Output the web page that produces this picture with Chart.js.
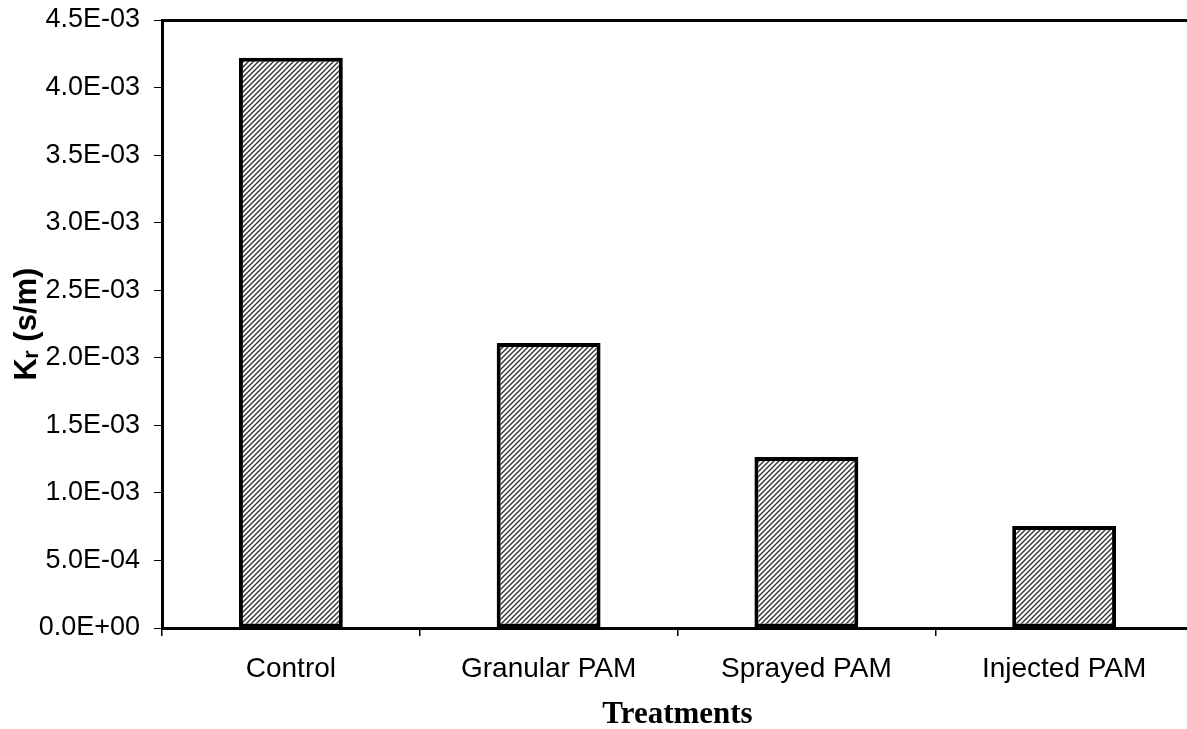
<!DOCTYPE html>
<html>
<head>
<meta charset="utf-8">
<script src="https://cdn.jsdelivr.net/npm/chart.js@4/dist/chart.umd.min.js"></script>
<style>
  html, body { margin: 0; padding: 0; background: #fff; overflow: hidden; }
  #wrap { width: 1187px; height: 729px; overflow: hidden; }
  canvas { display: block; }
</style>
</head>
<body>
<div id="wrap"><canvas id="c" width="1194" height="729"></canvas></div>
<script>
// ---- data ----
const categories = ['Control', 'Granular PAM', 'Sprayed PAM', 'Injected PAM'];
const krValues = [4.22e-3, 2.11e-3, 1.265e-3, 0.755e-3];
const yTitle = 'Kᵣ (s/m)';
const xTitle = 'Treatments';
const yMin = 0, yMax = 4.5e-3, yStep = 5e-4;

function sciLabel(v) {
  const s = Number(v).toExponential(1).toUpperCase(); // e.g. 4.5E-3
  const m = s.match(/^(-?[\d.]+)E([+-])(\d+)$/);
  if (!m) return s;
  return m[1] + 'E' + m[2] + m[3].padStart(2, '0');
}

function hatch() {
  const p = document.createElement('canvas');
  const n = 5;
  p.width = n; p.height = n;
  const g = p.getContext('2d');
  g.fillStyle = '#ffffff';
  g.fillRect(0, 0, n, n);
  g.strokeStyle = '#333333';
  g.lineWidth = 1.4;
  g.beginPath();
  g.moveTo(-1, n + 1); g.lineTo(n + 1, -1);
  g.moveTo(-1, 1); g.lineTo(1, -1);
  g.moveTo(n - 1, n + 1); g.lineTo(n + 1, n - 1);
  g.stroke();
  return g.createPattern(p, 'repeat');
}

const ctx = document.getElementById('c').getContext('2d');
new Chart(ctx, {
  type: 'bar',
  data: {
    labels: categories,
    datasets: [{
      data: krValues,
      backgroundColor: hatch(),
      borderColor: '#000',
      borderWidth: 4,
      borderSkipped: false,
      barPercentage: 0.403,
      categoryPercentage: 1.0
    }]
  },
  options: {
    responsive: false,
    animation: false,
    devicePixelRatio: 1,
    layout: { padding: { top: 20, right: 1, left: 0, bottom: 0 } },
    plugins: { legend: { display: false }, tooltip: { enabled: false } },
    scales: {
      x: {
        position: 'bottom',
        offset: true,
        grid: { display: true, drawOnChartArea: false, drawTicks: true, tickLength: 8, color: '#000', lineWidth: 1.5, offset: true },
        border: { display: true, color: '#000', width: 3 },
        ticks: { color: '#000', padding: 16, font: { family: '"Liberation Sans", Arial, sans-serif', size: 28 } },
        title: { display: true, text: xTitle, color: '#000', padding: { top: 0, bottom: 0 },
                 font: { family: '"Liberation Serif", "Times New Roman", serif', size: 31, weight: 'bold', lineHeight: 0.9 } },
        afterFit: (s) => { s.height = 101; }
      },
      xTop: {
        type: 'category',
        position: 'top',
        grid: { display: false, drawTicks: false },
        ticks: { display: false },
        border: { display: true, color: '#000', width: 3 },
        afterFit: (s) => { s.height = 0; s.paddingLeft = 0; s.paddingRight = 0; }
      },
      y: {
        min: yMin,
        max: yMax,
        grid: { display: true, drawOnChartArea: false, drawTicks: true, tickLength: 8, color: '#000', lineWidth: 1 },
        border: { display: true, color: '#000', width: 3 },
        ticks: {
          stepSize: yStep,
          color: '#000',
          padding: 14,
          font: { family: '"Liberation Sans", Arial, sans-serif', size: 27 },
          callback: (v) => sciLabel(v)
        },
        title: { display: true, text: yTitle, color: '#000', padding: { top: 9, bottom: 0 },
                 font: { family: '"Liberation Sans", Arial, sans-serif', size: 31, weight: 'bold', lineHeight: 1.2 } },
        afterFit: (s) => { s.width = 162; s.paddingTop = 0; s.paddingBottom = 0; }
      }
    }
  }
});
</script>
</body>
</html>
